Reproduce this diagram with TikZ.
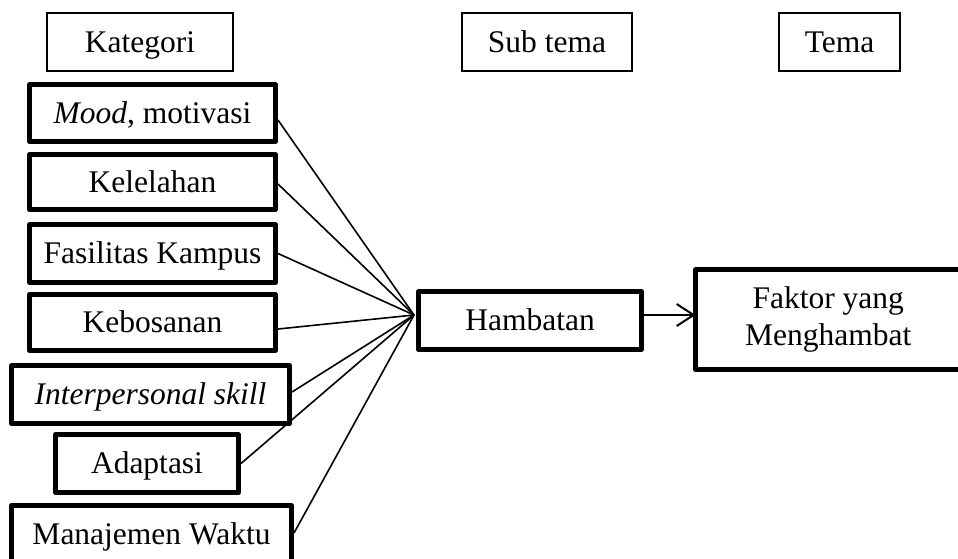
\documentclass[tikz,border=0pt]{standalone}
\usepackage{fontspec}
\setmainfont{Liberation Serif}
\usetikzlibrary{arrows.meta,calc}
\begin{document}
\begin{tikzpicture}[x=0.5pt,y=-0.5pt,
  every node/.style={inner sep=0pt,outer sep=0pt,font=\fontsize{15.75}{18.5}\selectfont},
  oneline/.style={text height=12pt,text depth=1.6pt},
  headbox/.style={draw,oneline,line width=0.9pt,minimum height=29pt},
  catbox/.style={draw,oneline,line width=2.4pt,line join=round,minimum height=29pt},
  themebox/.style={draw,line width=2.4pt,line join=round,align=center},
  link/.style={line width=0.8pt},
  arr/.style={line width=1pt,-{Straight Barb[length=8.5pt,width=11pt,line width=1pt]}}]
\clip (0,0) rectangle (958,558);
\fill[white] (0,0) rectangle (958,558);
% headers
\node[headbox,minimum width=93pt] (kat) at (140,42) {Kategori};
\node[headbox,minimum width=85pt] (sub) at (547,42) {Sub tema};
\node[headbox,minimum width=60.5pt] (tema) at (839.5,42) {Tema};
% categories
\node[catbox,minimum width=123pt,minimum height=28.5pt] (mood) at (152.5,113) {\textit{Mood}, motivasi};
\node[catbox,minimum width=123pt,minimum height=27.5pt] (lelah) at (152.5,182) {Kelelahan};
\node[catbox,minimum width=123pt] (fas) at (152.5,253.5) {Fasilitas Kampus};
\node[catbox,minimum width=123pt,minimum height=28pt] (bosan) at (152.5,322.5) {Kebosanan};
\node[catbox,minimum width=139pt] (inter) at (150.5,394.5) {\textit{Interpersonal skill}};
\node[catbox,minimum width=91.5pt] (adapt) at (147,463.5) {Adaptasi};
\node[catbox,minimum width=140pt] (waktu) at (151.5,534.5) {Manajemen Waktu};
% sub theme and theme
\node[catbox,minimum width=111.5pt] (hamb) at (530,320.5) {Hambatan};
\node[themebox,minimum width=132.75pt,minimum height=50pt] (faktor) at (828.25,319.5) {Faktor yang\\Menghambat};
% convergence point
\coordinate (conv) at ($(hamb.west)+(-4.5,-5.5)$);
\draw[link] ($(mood.east)+(2.5,7)$) -- (conv);
\draw[link] ($(lelah.east)+(2.5,2)$) -- (conv);
\draw[link] ($(fas.east)+(2.5,0)$) -- (conv);
\draw[link] ($(bosan.east)+(2.5,6.5)$) -- (conv);
\draw[link] ($(inter.east)+(2.5,-2.5)$) -- (conv);
\draw[link] ($(adapt.east)+(2.5,0)$) -- (conv);
\draw[link] ($(waktu.east)+(2.5,-1.5)$) -- (conv);
% arrow
\coordinate (astart) at ($(hamb.east)+(0,-5.5)$);
\draw[arr] (astart) -- (astart -| faktor.west);
\end{tikzpicture}
\end{document}
